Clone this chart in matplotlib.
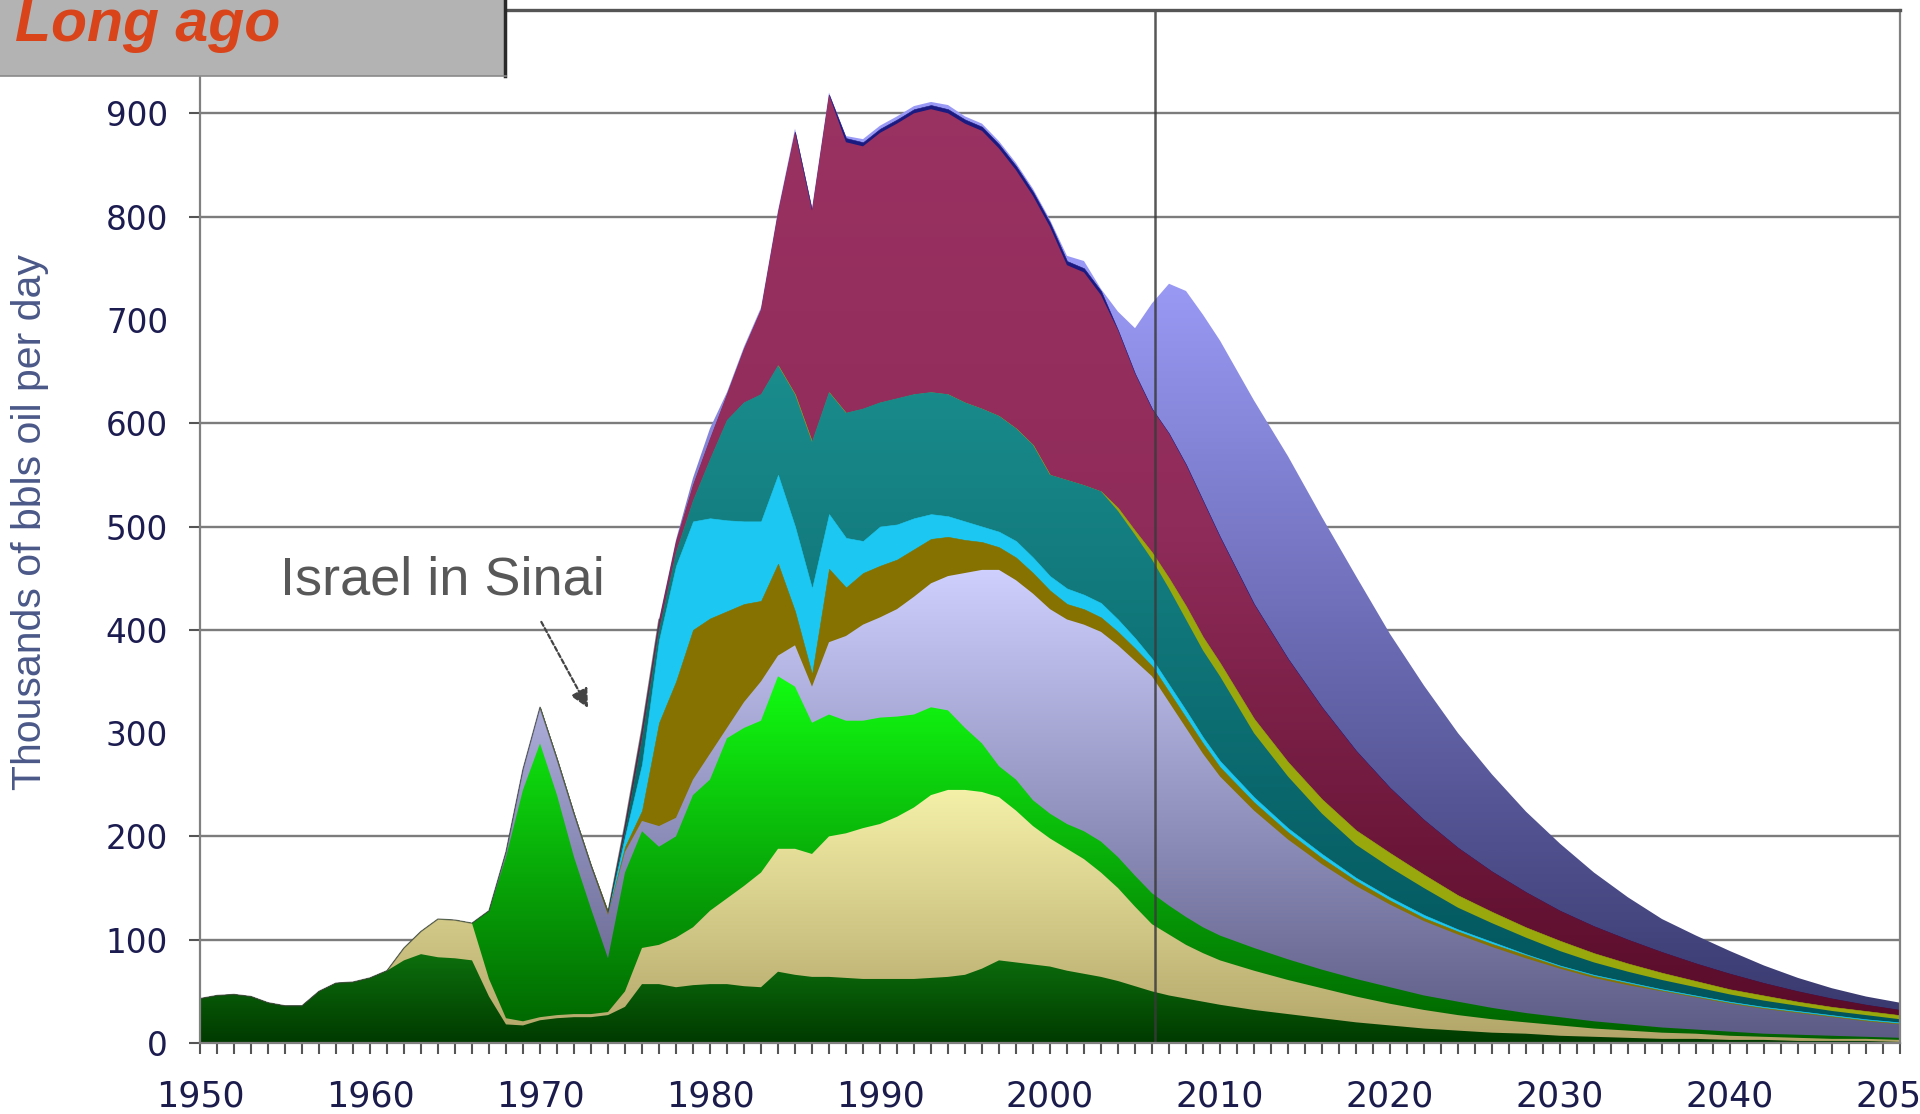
import numpy as np
import matplotlib
matplotlib.use('Agg')
import matplotlib.pyplot as plt
from matplotlib.colors import LinearSegmentedColormap
from matplotlib.patches import PathPatch, Rectangle
from matplotlib.path import Path
from matplotlib.lines import Line2D

# ---------------- data (cumulative tops of each stacked layer) ----------------
years = list(range(1950, 2011)) + list(range(2012, 2051, 2))

dark_green = [
    43, 46, 47, 45, 39, 36, 36, 50, 58, 59,
    63, 70, 80, 86, 83, 82, 80, 45, 18, 17,
    22, 24, 25, 25, 27, 35, 57, 57, 54, 56,
    57, 57, 55, 54, 69, 66, 64, 64, 63, 62,
    62, 62, 62, 63, 64, 66, 72, 80, 78, 76,
    74, 70, 67, 64, 60, 55, 50, 46, 43, 40, 37,
    32, 28, 24, 20, 17, 14, 12, 10, 9, 7, 6, 5, 4, 4, 3, 3, 2, 2, 2, 1]

khaki = [
    43, 46, 47, 45, 39, 36, 36, 50, 58, 59,
    63, 70, 92, 108, 120, 119, 116, 62, 24, 21,
    25, 27, 28, 28, 30, 50, 92, 95, 102, 112,
    128, 140, 152, 165, 188, 188, 183, 200, 203, 208,
    212, 219, 228, 240, 245, 245, 243, 238, 225, 210,
    198, 188, 178, 165, 150, 132, 115, 105, 95, 87, 80,
    70, 61, 53, 45, 38, 32, 27, 23, 20, 17, 14, 12, 10, 9, 7, 6, 5, 4, 4, 3]

green = [
    43, 46, 47, 45, 39, 36, 36, 50, 58, 59,
    63, 70, 92, 108, 120, 119, 116, 128, 180, 245,
    290, 240, 180, 130, 82, 165, 205, 190, 200, 240,
    255, 295, 305, 312, 355, 345, 310, 318, 312, 312,
    315, 316, 318, 325, 322, 305, 290, 268, 255, 235,
    222, 212, 205, 195, 180, 162, 145, 133, 122, 112, 104,
    92, 81, 71, 62, 54, 46, 40, 34, 29, 25, 21, 18, 15, 13, 11, 9, 8, 7, 6, 5]

lavender = [
    43, 46, 47, 45, 39, 36, 36, 50, 58, 59,
    63, 70, 92, 108, 120, 119, 116, 128, 185, 265,
    325, 275, 222, 172, 124, 185, 215, 210, 218, 255,
    280, 305, 330, 350, 375, 385, 345, 388, 394, 405,
    412, 420, 432, 445, 452, 455, 458, 458, 448, 435,
    420, 410, 405, 398, 385, 370, 355, 330, 305, 280, 258,
    225, 197, 173, 152, 134, 118, 105, 93, 82, 72, 63, 56, 50, 44, 38, 33, 29, 25, 21, 18]

olive = [
    43, 46, 47, 45, 39, 36, 36, 50, 58, 59,
    63, 70, 92, 108, 120, 119, 116, 128, 185, 265,
    325, 275, 222, 172, 126, 190, 225, 310, 350, 400,
    411, 418, 425, 428, 464, 418, 357, 459, 441, 455,
    462, 468, 478, 488, 490, 487, 485, 480, 470, 455,
    438, 425, 420, 412, 398, 382, 365, 340, 315, 290, 267,
    233, 204, 179, 157, 138, 121, 108, 96, 85, 74, 65, 58, 51, 45, 39, 34, 30, 26, 22, 19]

cyan = [
    43, 46, 47, 45, 39, 36, 36, 50, 58, 59,
    63, 70, 92, 108, 120, 119, 116, 128, 185, 265,
    325, 275, 222, 172, 126, 200, 270, 390, 462, 505,
    508, 506, 505, 505, 550, 500, 440, 512, 489, 486,
    500, 502, 508, 512, 510, 505, 500, 495, 486, 470,
    452, 440, 434, 426, 410, 392, 372, 347, 322, 296, 273,
    238, 208, 183, 160, 141, 124, 110, 98, 86, 75, 66, 59, 52, 46, 40, 35, 31, 27, 23, 20]

teal = [
    43, 46, 47, 45, 39, 36, 36, 50, 58, 59,
    63, 70, 92, 108, 120, 119, 116, 128, 185, 265,
    325, 275, 222, 172, 127, 205, 295, 400, 475, 525,
    565, 603, 620, 628, 656, 628, 582, 630, 610, 614,
    620, 624, 628, 630, 628, 620, 614, 607, 595, 579,
    550, 545, 540, 534, 515, 492, 468, 440, 410, 380, 355,
    300, 258, 222, 192, 170, 150, 131, 116, 102, 89, 78, 69, 61, 54, 47, 41, 36, 31, 27, 23]

yellow_green = [
    43, 46, 47, 45, 39, 36, 36, 50, 58, 59,
    63, 70, 92, 108, 120, 119, 116, 128, 185, 265,
    325, 275, 222, 172, 127, 205, 295, 400, 475, 525,
    565, 603, 620, 628, 656, 628, 582, 630, 610, 614,
    620, 624, 628, 630, 628, 620, 614, 607, 595, 579,
    550, 545, 540, 534, 518, 496, 475, 450, 423, 393, 368,
    314, 272, 236, 206, 184, 163, 143, 127, 112, 99, 87, 77, 68, 60, 52, 46, 40, 35, 31, 27]

maroon = [
    43, 46, 47, 45, 39, 36, 36, 50, 58, 59,
    63, 70, 92, 108, 120, 119, 116, 128, 185, 265,
    325, 275, 222, 172, 127, 210, 303, 408, 485, 540,
    585, 628, 672, 710, 804, 882, 806, 918, 872, 868,
    881, 890, 900, 904, 900, 890, 883, 866, 845, 820,
    790, 753, 746, 724, 690, 648, 614, 590, 560, 525, 490,
    425, 372, 325, 283, 247, 216, 189, 166, 146, 128, 113, 100, 88, 77, 67, 58, 50, 43, 37, 32]

navy = [
    43, 46, 47, 45, 39, 36, 36, 50, 58, 59,
    63, 70, 92, 108, 120, 119, 116, 128, 185, 265,
    325, 275, 222, 172, 127, 210, 303, 408, 485, 540,
    585, 628, 672, 710, 804, 882, 806, 918, 876, 872,
    885, 894, 904, 908, 904, 894, 887, 870, 849, 824,
    794, 757, 750, 728, 690, 648, 614, 590, 560, 525, 490,
    425, 372, 325, 283, 247, 216, 189, 166, 146, 128, 113, 100, 88, 77, 67, 58, 50, 43, 37, 32]

total = [
    43, 46, 47, 45, 39, 36, 36, 50, 58, 59,
    63, 70, 92, 108, 120, 119, 116, 128, 185, 265,
    325, 275, 222, 172, 127, 212, 305, 410, 487, 547,
    595, 630, 674, 712, 806, 885, 808, 920, 878, 875,
    888, 897, 907, 911, 908, 897, 890, 873, 852, 827,
    797, 762, 757, 730, 708, 692, 716, 735, 728, 705, 680,
    622, 568, 509, 452, 396, 346, 300, 260, 224, 193, 165, 141, 120, 104, 89, 75, 63, 53, 45, 39]

y_ticks = [0, 100, 200, 300, 400, 500, 600, 700, 800, 900]
grid_values = [100, 200, 400, 500, 600, 800, 900]
x_ticks = list(range(1950, 2051, 10))

# layer styles: (tops, fill) ; fill = solid colour or list of (value, colour) gradient stops
layer_specs = [
    (dark_green, [(0, '#003a00'), (90, '#0d720d')]),
    (khaki, [(0, '#b2a468'), (250, '#f6f2aa')]),
    (green, [(0, '#006000'), (360, '#12ff12')]),
    (lavender, [(0, '#5a5a84'), (460, '#d0d0ff')]),
    (olive, '#857200'),
    (cyan, '#1cc8f2'),
    (teal, [(0, '#00525a'), (650, '#1a8c8c')]),
    (yellow_green, '#99a80c'),
    (maroon, [(0, '#560a26'), (500, '#902c5a'), (920, '#9a3262')]),
    (navy, '#1a1a80'),
    (total, [(0, '#36366a'), (740, '#9a9af6')]),
]

# ---------------- figure ----------------
fig = plt.figure(figsize=(19.2, 11.14), dpi=100)
fig.patch.set_facecolor('white')
ax = fig.add_axes([200 / 1920, 71 / 1114, 1700 / 1920, 1033 / 1114])
ax.set_facecolor('white')

x = np.array(years, dtype=float)

for v in grid_values:
    ax.axhline(v, color='#7c7c7c', lw=1.7, zorder=1)

for k, (tops, fill) in enumerate(reversed(layer_specs)):
    z = 2 + k * 0.05
    y = np.array(tops, dtype=float)
    if isinstance(fill, str):
        ax.fill_between(x, 0, y, facecolor=fill, edgecolor=fill, lw=0.4, zorder=z)
    else:
        poly = ax.fill_between(x, 0, y, facecolor='none', edgecolor='none', zorder=z)
        path = Path.make_compound_path(*poly.get_paths())
        patch = PathPatch(path, transform=ax.transData, facecolor='none', edgecolor='none')
        ax.add_patch(patch)
        vtop = max(fill[-1][0], y.max()) + 5
        stops = [(min(v / vtop, 1.0), c) for v, c in fill]
        if stops[-1][0] < 1.0:
            stops.append((1.0, fill[-1][1]))
        cmap = LinearSegmentedColormap.from_list('g%d' % k, stops)
        grad = np.linspace(0, 1, 512).reshape(-1, 1)
        im = ax.imshow(grad, cmap=cmap, origin='lower', extent=[1950, 2050, 0, vtop],
                       aspect='auto', interpolation='bilinear', zorder=z)
        im.set_clip_path(patch)

# dark outline on the early hump
early = x <= 1977
ax.plot(x[early], np.array(total, float)[early], color='#3a3a3a', lw=1.0, alpha=0.6, zorder=4)

# vertical "now" line
ax.axvline(2006.2, color='#3a3a3a', lw=1.8, alpha=0.85, zorder=10)

ax.set_xlim(1950, 2050)
ax.set_ylim(0, 1000)

# ticks
ax.set_xticks(x_ticks)
ax.set_xticklabels([str(t) for t in x_ticks])
ax.set_xticks(list(range(1951, 2050)), minor=True)
ax.tick_params(axis='x', which='both', direction='out', length=8, width=1.5,
               color='#555555', pad=18, labelsize=25, labelcolor='#1c1c4c')
ax.set_yticks(y_ticks)
ax.set_yticklabels([str(t) for t in y_ticks])
ax.tick_params(axis='y', direction='out', length=8, width=1.5, color='#555555',
               pad=15, labelsize=23.5, labelcolor='#1c1c50')
for t, v in zip(ax.yaxis.get_major_ticks(), y_ticks):
    if v in (300, 700):
        t.tick1line.set_visible(False)

for s in ['left', 'bottom', 'right']:
    ax.spines[s].set_color('#808080')
    ax.spines[s].set_linewidth(1.6)
    ax.spines[s].set_zorder(12)
ax.spines['top'].set_color('#555555')
ax.spines['top'].set_linewidth(2.4)
ax.spines['top'].set_zorder(12)

# annotation
ax.annotate('', xy=(1972.9, 322), xytext=(1970.0, 410),
            arrowprops=dict(arrowstyle='-|>', color='#444444', lw=1.6,
                            linestyle=(0, (2, 1.2)), mutation_scale=28),
            zorder=11)
ax.text(1954.7, 434, 'Israel in Sinai', fontsize=39, family='Liberation Sans',
        color='#585858', ha='left', va='baseline', zorder=11)

# y label
fig.text(30 / 1920, 1 - 522 / 1114, 'Thousands of bbls oil per day', rotation=90,
         ha='center', va='center', fontsize=29.5, family='Liberation Sans', color='#4a5888')

# "Long ago" box
fig.patches.append(Rectangle((0, 1 - 76 / 1114), 506 / 1920, 76 / 1114,
                             transform=fig.transFigure, facecolor='#b3b3b3',
                             edgecolor='none', zorder=20))
fig.lines.append(Line2D([505 / 1920, 505 / 1920], [1, 1 - 76 / 1114],
                        transform=fig.transFigure, color='#2a2a2a', lw=2.5, zorder=21))
fig.lines.append(Line2D([0, 506 / 1920], [1 - 76 / 1114, 1 - 76 / 1114],
                        transform=fig.transFigure, color='#8a8a8a', lw=1.2, zorder=21))
fig.text(15 / 1920, 1 - 41 / 1114, 'Long ago', fontsize=42.5, fontweight='bold',
         fontstyle='italic', family='Liberation Sans', color='#d9441a',
         ha='left', va='baseline', zorder=22)

fig.savefig('out.png', dpi=100)
